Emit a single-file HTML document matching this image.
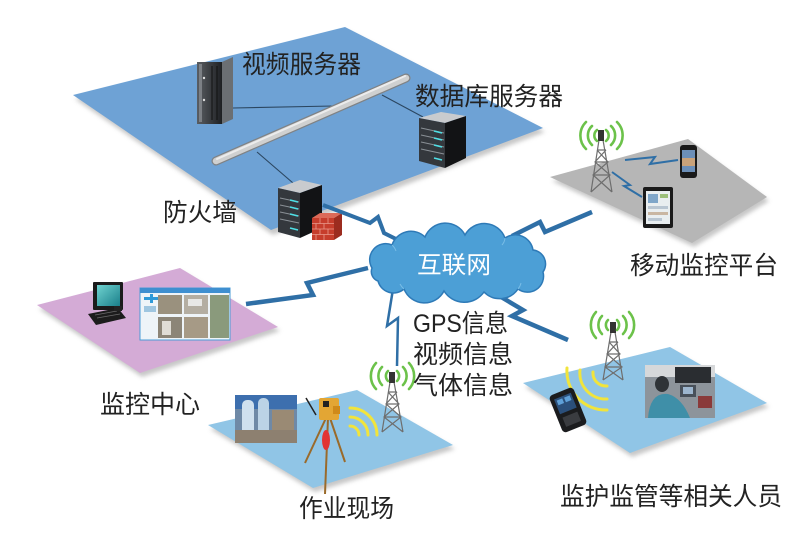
<!DOCTYPE html>
<html><head><meta charset="utf-8">
<style>
html,body{margin:0;padding:0;background:#fff;}
svg{display:block;}
text{font-family:"Liberation Sans","Noto Sans CJK SC",sans-serif;fill:#222;}
</style></head><body>
<svg width="808" height="534" viewBox="0 0 808 534" xmlns="http://www.w3.org/2000/svg">
<defs>
<filter id="sh" x="-10%" y="-10%" width="120%" height="130%"><feGaussianBlur stdDeviation="2"/></filter>
<linearGradient id="scr" x1="0" y1="0" x2="1" y2="1"><stop offset="0" stop-color="#6fd3d0"/><stop offset="1" stop-color="#1a7f8a"/></linearGradient>
<linearGradient id="srv" x1="0" y1="0" x2="1" y2="0"><stop offset="0" stop-color="#5a5e63"/><stop offset="1" stop-color="#1e2023"/></linearGradient>
</defs>

<!-- plane shadows -->
<g fill="#b9b9b9" filter="url(#sh)" opacity="0.8">
<polygon points="75,99 347,31 545,132 273,235"/>
<polygon points="552,181 690,143 769,201 694,247"/>
<polygon points="39,309 182,272 280,331 142,377"/>
<polygon points="210,429 359,394 455,449 315,492"/>
<polygon points="525,387 672,351 769,407 632,457"/>
</g>

<!-- planes -->
<polygon points="73,95 345,27 543,128 271,230" fill="#6ea2d5"/>
<polygon points="550,177 688,139 767,197 692,243" fill="#b6b6b6"/>
<polygon points="37,305 180,268 278,327 140,373" fill="#d4abd6"/>
<polygon points="208,425 357,390 453,445 313,488" fill="#90c5e6"/>
<polygon points="523,383 670,347 767,403 630,453" fill="#90c5e6"/>

<!-- connection lines top plane -->
<g stroke="#2b4660" stroke-width="1.1">
<line x1="233" y1="108" x2="333" y2="106"/>
<line x1="257" y1="152" x2="293" y2="183"/>
<line x1="382" y1="95" x2="423" y2="117"/>
</g>
<!-- pipe -->
<line x1="216" y1="161" x2="406" y2="78" stroke="#7f8285" stroke-width="9" stroke-linecap="round"/>
<line x1="216" y1="161" x2="406" y2="78" stroke="#cfd0d0" stroke-width="6.5" stroke-linecap="round"/>
<line x1="217" y1="159" x2="405" y2="76" stroke="#ececec" stroke-width="2" stroke-linecap="round"/>

<!-- video server tower -->
<polygon points="222,62 233,57 233,119 222,124" fill="#6b6f73"/>
<rect x="197" y="62" width="25" height="62" fill="url(#srv)"/>
<rect x="199" y="64" width="3" height="58" fill="#7c8085"/>
<circle cx="204" cy="78" r="1.2" fill="#ddd"/><circle cx="204" cy="100" r="1.2" fill="#ddd"/>
<line x1="212" y1="66" x2="212" y2="120" stroke="#111" stroke-width="1"/>
<line x1="217" y1="66" x2="217" y2="120" stroke="#111" stroke-width="1"/>

<!-- DB server -->
<polygon points="419,118 441,112 466,116 445,123" fill="#c9cbce"/>
<polygon points="419,118 445,123 445,168 419,161" fill="#34383d"/>
<polygon points="445,123 466,116 466,158 445,168" fill="#121315"/>
<g stroke="#8a9096" stroke-width="1"><line x1="421" y1="128" x2="444" y2="133"/><line x1="421" y1="135" x2="444" y2="140"/><line x1="421" y1="142" x2="444" y2="147"/><line x1="421" y1="149" x2="444" y2="154"/></g>
<g stroke="#4fe0e6" stroke-width="1.5"><line x1="434" y1="131" x2="442" y2="133"/><line x1="434" y1="138" x2="442" y2="140"/><line x1="434" y1="145" x2="442" y2="147"/><line x1="434" y1="158" x2="442" y2="160"/></g>

<!-- firewall server -->
<polygon points="278,188 300,180 322,185 300,193" fill="#c9cbce"/>
<polygon points="278,188 300,193 300,238 278,232" fill="#34383d"/>
<polygon points="300,193 322,185 322,228 300,238" fill="#121315"/>
<g stroke="#8a9096" stroke-width="1"><line x1="280" y1="198" x2="299" y2="202"/><line x1="280" y1="205" x2="299" y2="209"/><line x1="280" y1="212" x2="299" y2="216"/><line x1="280" y1="219" x2="299" y2="223"/></g>
<g stroke="#4fe0e6" stroke-width="1.5"><line x1="290" y1="200" x2="298" y2="202"/><line x1="290" y1="207" x2="298" y2="209"/><line x1="290" y1="214" x2="298" y2="216"/><line x1="290" y1="228" x2="298" y2="230"/></g>
<!-- brick wall -->
<polygon points="312,218 320,213 342,213 334,218" fill="#dc6a58"/>
<rect x="312" y="218" width="22" height="22" fill="#c63d2c"/>
<polygon points="334,218 342,213 342,235 334,240" fill="#9c2c1f"/>
<g stroke="#e99a8d" stroke-width="0.8"><line x1="312" y1="223.5" x2="334" y2="223.5"/><line x1="312" y1="229" x2="334" y2="229"/><line x1="312" y1="234.5" x2="334" y2="234.5"/><line x1="320" y1="218" x2="320" y2="223.5"/><line x1="328" y1="218" x2="328" y2="223.5"/><line x1="316" y1="223.5" x2="316" y2="229"/><line x1="324" y1="223.5" x2="324" y2="229"/><line x1="320" y1="229" x2="320" y2="234.5"/><line x1="328" y1="229" x2="328" y2="234.5"/><line x1="316" y1="234.5" x2="316" y2="240"/><line x1="324" y1="234.5" x2="324" y2="240"/></g>

<!-- lightning bolts -->
<g fill="none" stroke="#2f6fa6" stroke-linejoin="miter">
<polyline points="323,205 370,223 378,217 384,233 400,241" stroke-width="4"/>
<polyline points="512,236 540,222 545,232 592,212" stroke-width="4.5"/>
<polyline points="368,268 307,283 313,295 246,304" stroke-width="4.5"/>
<polyline points="393,289 387,326 398,318 397,366" stroke-width="2.5"/>
<polyline points="486,288 523,310 512,316 568,340" stroke-width="4.5"/>
</g>

<!-- cloud -->
<path d="M372,268 A16,16 0 0 1 392,245 A20,20 0 0 1 425,237 A22,22 0 0 1 465,235 A22,22 0 0 1 505,238 A18,18 0 0 1 533,250 A14,14 0 0 1 543,272 A16,16 0 0 1 518,289 A22,22 0 0 1 484,292 A24,24 0 0 1 444,291 A22,22 0 0 1 404,289 A16,16 0 0 1 378,281 A10,10 0 0 1 372,268 Z" fill="#4c9fd6" stroke="#2e7ab7" stroke-width="1.5"/>
<g fill="none" stroke="#79bde6" stroke-width="1"><path d="M392,245 a14,14 0 0 1 4,6"/><path d="M505,238 a12,12 0 0 1 -3,7"/><path d="M404,289 a16,16 0 0 1 -4,-5"/><path d="M518,289 a14,14 0 0 0 3,-6"/></g>
<text x="417" y="273" font-size="24" style="fill:#fff" textLength="74" lengthAdjust="spacingAndGlyphs">互联网</text>

<!-- towers -->
<g stroke="#6e6e6e" stroke-width="1.2" fill="none">
<!-- gray plane tower -->
<path d="M599,140 L591,192 M603,140 L612,192 M597,150 L606,150 M595,162 L608,162 M593,175 L610,175 M597,150 L608,162 L593,175 L612,192 M606,150 L595,162 L610,175 L591,192"/>
<!-- work tower -->
<path d="M390,382 L382,432 M394,382 L403,432 M388,392 L397,392 M386,404 L399,404 M384,417 L401,417 M388,392 L399,404 L384,417 L403,432 M397,392 L386,404 L401,417 L382,432"/>
<!-- supervise tower -->
<path d="M611,332 L603,380 M615,332 L623,380 M609,342 L618,342 M607,354 L620,354 M605,367 L622,367 M609,342 L620,354 L605,367 L623,380 M618,342 L607,354 L622,367 L603,380"/>
</g>
<rect x="598" y="130" width="6" height="11" fill="#333"/>
<rect x="389" y="372" width="6" height="11" fill="#333"/>
<rect x="610" y="322" width="6" height="11" fill="#333"/>

<!-- green signal arcs -->
<g fill="none" stroke="#6cc24a" stroke-width="2.6" stroke-linecap="round">
<path d="M597,130 a7,7 0 0 0 0,11 M606,130 a7,7 0 0 1 0,11 M592,126 a13,13 0 0 0 0,19 M611,126 a13,13 0 0 1 0,19 M586,122 a19,19 0 0 0 0,27 M617,122 a19,19 0 0 1 0,27"/>
<path d="M388,371 a7,7 0 0 0 0,10 M397,371 a7,7 0 0 1 0,10 M382,367 a13,13 0 0 0 0,18 M403,367 a13,13 0 0 1 0,18 M376,363 a19,19 0 0 0 0,26 M409,363 a19,19 0 0 1 0,26"/>
<path d="M608,320 a7,7 0 0 0 0,10 M617,320 a7,7 0 0 1 0,10 M602,316 a13,13 0 0 0 0,18 M623,316 a13,13 0 0 1 0,18 M596,312 a19,19 0 0 0 0,26 M629,312 a19,19 0 0 1 0,26"/>
</g>

<!-- yellow arcs -->
<g fill="none" stroke="#f1e43c" stroke-width="3" stroke-linecap="round">
<path d="M350,426 a9,9 0 0 1 9,9 M350,417 a18,18 0 0 1 18,18 M350,408 a27,27 0 0 1 27,27"/>
<path d="M593,372 a13,13 0 0 0 14,14 M580,370 a26,26 0 0 0 27,29 M567,368 a39,39 0 0 0 40,42"/>
</g>

<!-- small lightning in gray plane -->
<g fill="none" stroke="#2f6fa6" stroke-width="2">
<polyline points="625,160 655,157 650,164 678,160"/>
<polyline points="612,172 630,185 624,186 642,197"/>
</g>
<!-- phone -->
<rect x="680" y="145" width="17" height="33" rx="3" fill="#1a1a1a"/>
<rect x="682" y="150" width="13" height="22" fill="#6c8fb8"/>
<rect x="682" y="158" width="13" height="8" fill="#c9a27a"/>
<!-- tablet -->
<rect x="643" y="187" width="30" height="41" rx="2" fill="#1a1a1a"/>
<rect x="646" y="191" width="24" height="33" fill="#e9eef0"/>
<rect x="648" y="194" width="10" height="9" fill="#7fa6c9"/>
<rect x="660" y="194" width="8" height="4" fill="#9bbf7a"/>
<rect x="648" y="206" width="20" height="3" fill="#b9c6d2"/>
<rect x="648" y="212" width="20" height="3" fill="#c9b6a2"/>
<rect x="648" y="218" width="14" height="3" fill="#b9c6d2"/>

<!-- monitor center -->
<rect x="93" y="282" width="30" height="28" rx="1" fill="#1b1b1b"/>
<rect x="97" y="285" width="23" height="21" fill="url(#scr)"/>
<polygon points="88,314 118,308 126,318 96,325" fill="#1c1c1c"/>
<g stroke="#6a6a6a" stroke-width="0.8"><line x1="95" y1="315" x2="117" y2="311"/><line x1="97" y1="318" x2="120" y2="314"/></g>
<rect x="114" y="306" width="8" height="5" fill="#222"/>
<!-- screenshot panel -->
<rect x="140" y="288" width="90" height="52" fill="#eef4f8" stroke="#4a9bd6" stroke-width="1"/>
<rect x="140" y="288" width="90" height="5" fill="#3e8fd0"/>
<path d="M144,297 h6 v-3 h3 v3 h6 v3 h-6 v3 h-3 v-3 h-6z" fill="#2f9ad8"/>
<rect x="144" y="306" width="12" height="6" fill="#9fc6e0"/>
<rect x="158" y="295" width="24" height="19" fill="#9a917e"/>
<rect x="184" y="295" width="24" height="19" fill="#b4aea2"/>
<rect x="158" y="317" width="24" height="21" fill="#8c8577"/>
<rect x="184" y="317" width="24" height="21" fill="#a69a86"/>
<rect x="210" y="295" width="19" height="43" fill="#8a9a7c"/>
<rect x="188" y="299" width="14" height="7" fill="#e8e8e6"/>
<rect x="162" y="321" width="9" height="14" fill="#e0ddd6"/>

<!-- work site photo -->
<rect x="235" y="395" width="62" height="48" fill="#6f89a6"/>
<rect x="235" y="395" width="62" height="14" fill="#3d6fae"/>
<rect x="242" y="400" width="12" height="40" rx="5" fill="#cfe0ee"/>
<rect x="258" y="398" width="11" height="42" rx="5" fill="#bcd3e6"/>
<rect x="272" y="410" width="22" height="33" fill="#9a8a74"/>
<rect x="235" y="430" width="62" height="13" fill="#8d8070"/>
<!-- tripod -->
<g stroke="#9a6a2a" stroke-width="2" fill="none"><line x1="326" y1="418" x2="305" y2="463"/><line x1="330" y1="418" x2="345" y2="462"/><line x1="328" y1="418" x2="325" y2="494"/></g>
<line x1="306" y1="398" x2="316" y2="415" stroke="#222" stroke-width="1.5"/>
<rect x="319" y="398" width="20" height="22" rx="2" fill="#e3a634"/>
<rect x="323" y="401" width="6" height="6" fill="#222"/>
<rect x="333" y="406" width="7" height="8" fill="#cf8a1a"/>
<ellipse cx="326" cy="440" rx="4" ry="10" fill="#e23434"/>

<!-- supervise photo -->
<rect x="645" y="365" width="70" height="53" fill="#8d949b"/>
<rect x="645" y="365" width="70" height="12" fill="#d6d8da"/>
<rect x="675" y="367" width="36" height="16" fill="#2a2d31"/>
<rect x="680" y="385" width="16" height="12" fill="#48505a"/>
<rect x="683" y="387" width="10" height="7" fill="#9db6cf"/>
<ellipse cx="662" cy="384" rx="7" ry="8" fill="#2f3337"/>
<path d="M648,418 Q650,392 668,394 Q682,398 690,418 Z" fill="#3f8fa8"/>
<rect x="698" y="396" width="14" height="12" fill="#8a3a3a"/>

<!-- supervise device -->
<g transform="rotate(-22 568 410)">
<rect x="555" y="390" width="26" height="40" rx="4" fill="#1b1c1e"/>
<rect x="559" y="395" width="18" height="16" fill="#2b4f7a"/>
<rect x="561" y="397" width="6" height="5" fill="#5fa0d8"/>
<rect x="569" y="397" width="6" height="5" fill="#5fa0d8"/>
<rect x="560" y="415" width="16" height="10" fill="#3a3c40"/>
</g>

<!-- labels -->
<text x="242" y="73" font-size="25" textLength="119" lengthAdjust="spacingAndGlyphs">视频服务器</text>
<text x="415" y="105" font-size="25" textLength="148" lengthAdjust="spacingAndGlyphs">数据库服务器</text>
<text x="163" y="221" font-size="25" textLength="74" lengthAdjust="spacingAndGlyphs">防火墙</text>
<text x="630" y="274" font-size="25" textLength="148" lengthAdjust="spacingAndGlyphs">移动监控平台</text>
<text x="100" y="413" font-size="25" textLength="100" lengthAdjust="spacingAndGlyphs">监控中心</text>
<text x="299" y="517" font-size="25" textLength="95" lengthAdjust="spacingAndGlyphs">作业现场</text>
<text x="560" y="505" font-size="25" textLength="222" lengthAdjust="spacingAndGlyphs">监护监管等相关人员</text>
<text x="413" y="332" font-size="25" textLength="95" lengthAdjust="spacingAndGlyphs">GPS信息</text>
<text x="413" y="363" font-size="25" textLength="100" lengthAdjust="spacingAndGlyphs">视频信息</text>
<text x="413" y="394" font-size="25" textLength="100" lengthAdjust="spacingAndGlyphs">气体信息</text>
</svg>
</body></html>
